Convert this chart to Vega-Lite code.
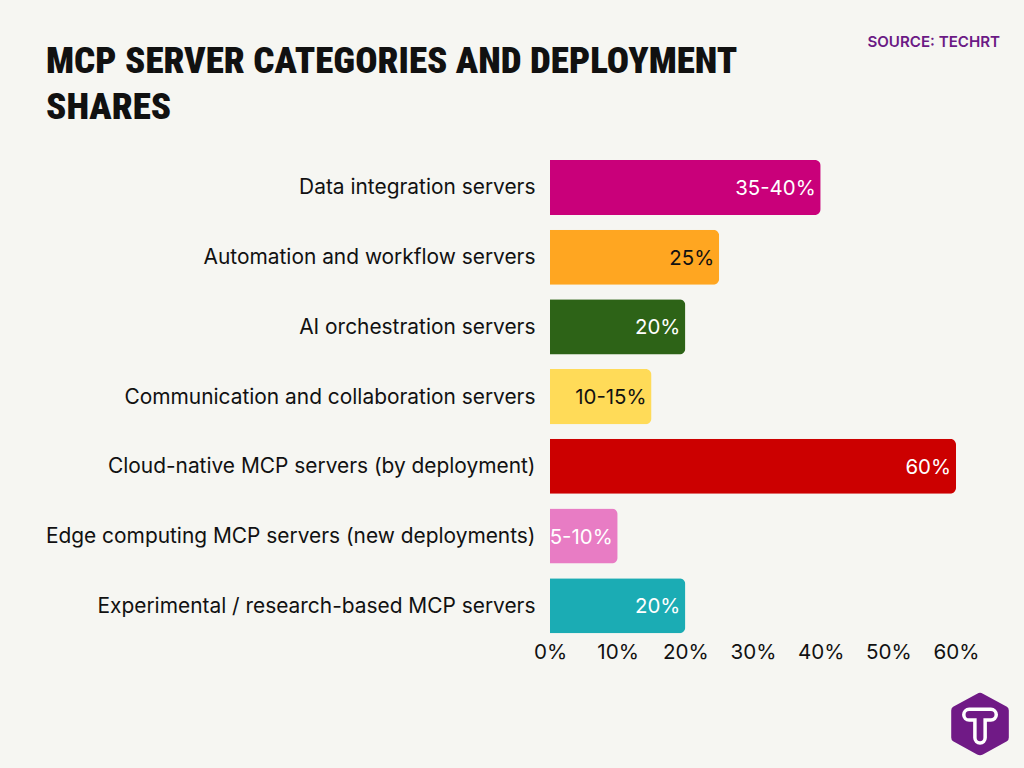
{
  "$schema": "https://vega.github.io/schema/vega-lite/v6.json",
  "width": 406,
  "height": 488,
  "autosize": {"type": "none"},
  "padding": {"left": 550, "top": 152.6, "right": 68, "bottom": 127.4},
  "background": "#f6f6f2",
  "title": {
    "text": ["MCP SERVER CATEGORIES AND DEPLOYMENT", "SHARES"],
    "anchor": "start",
    "frame": "group",
    "dx": -504,
    "dy": 92,
    "offset": 0,
    "font": "Roboto Condensed, Open Sans Condensed, DejaVu Sans Condensed, Roboto",
    "fontWeight": 900,
    "fontSize": 37,
    "lineHeight": 46,
    "color": "#111111"
  },
  "data": {
    "values": [
      {"category": "Data integration servers", "share": 40, "label": "35-40%"},
      {"category": "Automation and workflow servers", "share": 25, "label": "25%"},
      {"category": "AI orchestration servers", "share": 20, "label": "20%"},
      {"category": "Communication and collaboration servers", "share": 15, "label": "10-15%"},
      {"category": "Cloud-native MCP servers (by deployment)", "share": 60, "label": "60%"},
      {"category": "Edge computing MCP servers (new deployments)", "share": 10, "label": "5-10%"},
      {"category": "Experimental / research-based MCP servers", "share": 20, "label": "20%"}
    ]
  },
  "layer": [
    {
      "mark": {"type": "bar", "cornerRadiusEnd": 6},
      "encoding": {
        "x": {
          "field": "share",
          "type": "quantitative",
          "scale": {"domain": [0, 60]},
          "axis": {
            "title": null,
            "values": [0, 10, 20, 30, 40, 50, 60],
            "labelExpr": "datum.value + '%'",
            "labelFont": "Inter",
            "labelFontSize": 20.6,
            "labelColor": "#111111",
            "labelPadding": 2,
            "labelFlush": false,
            "grid": false,
            "ticks": false,
            "domain": false
          }
        },
        "y": {
          "field": "category",
          "type": "nominal",
          "sort": null,
          "scale": {"paddingInner": 0.21, "paddingOuter": 0.105},
          "axis": {
            "title": null,
            "labelFont": "Inter",
            "labelFontSize": 20.9,
            "labelColor": "#111111",
            "labelPadding": 15,
            "labelOffset": 1,
            "labelLimit": 600,
            "ticks": false,
            "domain": false
          }
        },
        "color": {
          "field": "category",
          "type": "nominal",
          "sort": null,
          "legend": null,
          "scale": {
            "range": ["#c9007a", "#ffa621", "#2d6317", "#ffdb58", "#cc0000", "#e87cc4", "#1bacb4"]
          }
        }
      }
    },
    {
      "mark": {"type": "text", "align": "right", "baseline": "middle", "dx": -5, "dy": 1.5, "font": "Inter", "fontSize": 20.4},
      "encoding": {
        "x": {"field": "share", "type": "quantitative"},
        "y": {
          "field": "category",
          "type": "nominal",
          "sort": null,
          "scale": {"paddingInner": 0.21, "paddingOuter": 0.105},
          "axis": null
        },
        "text": {"field": "label"},
        "color": {
          "condition": {
            "test": "datum.share == 25 || datum.share == 15",
            "value": "#111111"
          },
          "value": "#ffffff"
        }
      }
    },
    {
      "data": {"values": [{"source": "SOURCE: TECHRT"}]},
      "mark": {"type": "text", "align": "right", "baseline": "middle", "font": "Inter", "fontSize": 15.1, "fontWeight": 600, "color": "#6b1a85"},
      "encoding": {
        "x": {"datum": 66.5, "type": "quantitative"},
        "y": {"datum": 122.7, "type": "quantitative", "scale": {"domain": [0, 100]}, "axis": null},
        "text": {"field": "source"}
      }
    },
    {
      "data": {"values": [{"logo": "hexagon"}]},
      "mark": {
        "type": "point",
        "filled": true,
        "color": "#701a86",
        "opacity": 1,
        "size": 4096,
        "shape": "M-0.09,-0.95 Q0,-1 0.09,-0.95 L0.84,-0.54 Q0.9,-0.5 0.9,-0.42 L0.9,0.42 Q0.9,0.5 0.84,0.54 L0.09,0.95 Q0,1 -0.09,0.95 L-0.84,0.54 Q-0.9,0.5 -0.9,0.42 L-0.9,-0.42 Q-0.9,-0.5 -0.84,-0.54 Z"
      },
      "encoding": {
        "x": {"datum": 63.55, "type": "quantitative"},
        "y": {"datum": -17.1, "type": "quantitative", "scale": {"domain": [0, 100]}, "axis": null}
      }
    },
    {
      "data": {"values": [{"logo": "letter"}]},
      "mark": {
        "type": "point",
        "filled": false,
        "stroke": "#ffffff",
        "strokeWidth": 3.5,
        "opacity": 1,
        "size": 4096,
        "shape": "M-0.34,-0.46 L0.34,-0.46 A0.167,0.167 0 0 1 0.34,-0.125 L0.16,-0.125 L0.16,0.43 A0.16,0.16 0 0 1 -0.16,0.43 L-0.16,-0.125 L-0.34,-0.125 A0.167,0.167 0 0 1 -0.34,-0.46 Z"
      },
      "encoding": {
        "x": {"datum": 63.55, "type": "quantitative"},
        "y": {"datum": -17.1, "type": "quantitative", "scale": {"domain": [0, 100]}, "axis": null}
      }
    }
  ],
  "resolve": {"scale": {"y": "independent"}},
  "config": {"view": {"stroke": null}}
}
